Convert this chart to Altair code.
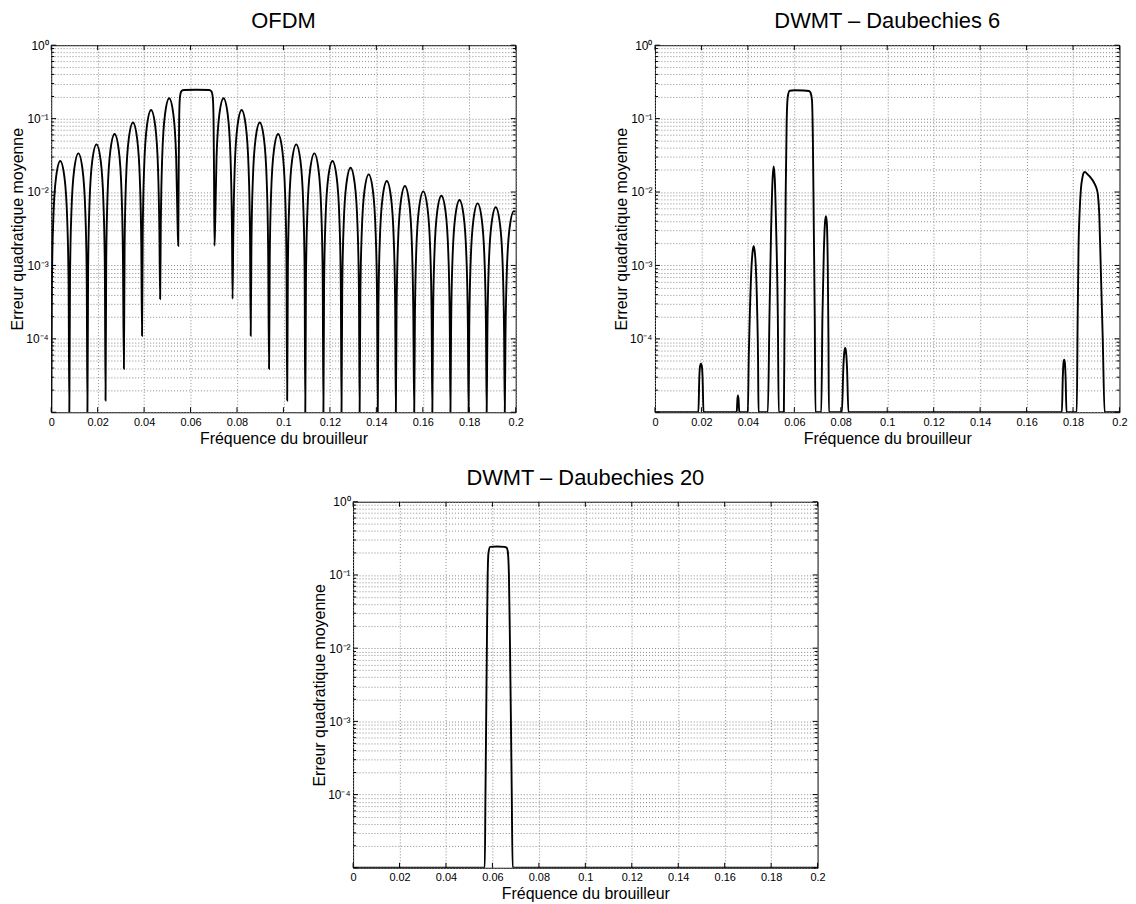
import altair as alt
import pandas as pd

FONT = "Liberation Sans"
GRID = "#8a8a8a"

# ---------------- data ----------------
titles = ["OFDM", "DWMT \u2013 Daubechies 6", "DWMT \u2013 Daubechies 20"]
x_label = "Fréquence du brouilleur"
y_label = "Erreur quadratique moyenne"

x_ticks = [0, 0.02, 0.04, 0.06, 0.08, 0.1, 0.12, 0.14, 0.16, 0.18, 0.2]
y_major = [1e-5, 1e-4, 1e-3, 1e-2, 1e-1, 1]
y_major_labels = ["", "10\u207b\u2074", "10\u207b\u00b3", "10\u207b\u00b2", "10\u207b\u00b9", "10\u2070"]
y_minor_mult = [2, 3, 4, 5, 6, 7, 8, 9]

ofdm_x = [
    0.0, 0.0003, 0.0009, 0.0021, 0.0039, 0.0057, 0.0069, 0.0075,
    0.0078, 0.0081, 0.0087, 0.0099, 0.0117, 0.0135, 0.0147, 0.0153,
    0.0156, 0.0159, 0.0165, 0.0177, 0.0195, 0.0213, 0.0225, 0.0231,
    0.0234, 0.0237, 0.0243, 0.0255, 0.0273, 0.0291, 0.0303, 0.0309,
    0.0313, 0.0316, 0.0322, 0.0334, 0.0352, 0.0370, 0.0382, 0.0388,
    0.0391, 0.0394, 0.0400, 0.0412, 0.0430, 0.0448, 0.0460, 0.0466,
    0.0469, 0.0472, 0.0478, 0.0490, 0.0508, 0.0526, 0.0538, 0.0544,
    0.0547, 0.0549, 0.0551, 0.0554, 0.0560, 0.0570, 0.0625, 0.0680, 0.0690, 0.0696, 0.0699, 0.0701,
    0.0703, 0.0706, 0.0712, 0.0724, 0.0742, 0.0760, 0.0772, 0.0778,
    0.0781, 0.0784, 0.0790, 0.0802, 0.0820, 0.0838, 0.0850, 0.0856,
    0.0859, 0.0862, 0.0868, 0.0880, 0.0898, 0.0916, 0.0928, 0.0934,
    0.0938, 0.0941, 0.0947, 0.0959, 0.0977, 0.0995, 0.1007, 0.1013,
    0.1016, 0.1019, 0.1025, 0.1037, 0.1055, 0.1073, 0.1085, 0.1091,
    0.1094, 0.1097, 0.1103, 0.1115, 0.1133, 0.1151, 0.1163, 0.1169,
    0.1172, 0.1175, 0.1181, 0.1193, 0.1211, 0.1229, 0.1241, 0.1247,
    0.1250, 0.1253, 0.1259, 0.1271, 0.1289, 0.1307, 0.1319, 0.1325,
    0.1328, 0.1331, 0.1337, 0.1349, 0.1367, 0.1385, 0.1397, 0.1403,
    0.1406, 0.1409, 0.1415, 0.1427, 0.1445, 0.1463, 0.1475, 0.1481,
    0.1484, 0.1487, 0.1493, 0.1505, 0.1523, 0.1541, 0.1553, 0.1559,
    0.1563, 0.1566, 0.1572, 0.1584, 0.1602, 0.1620, 0.1632, 0.1638,
    0.1641, 0.1644, 0.1650, 0.1662, 0.1680, 0.1698, 0.1710, 0.1716,
    0.1719, 0.1722, 0.1728, 0.1740, 0.1758, 0.1776, 0.1788, 0.1794,
    0.1797, 0.1800, 0.1806, 0.1818, 0.1836, 0.1854, 0.1866, 0.1872,
    0.1875, 0.1878, 0.1884, 0.1896, 0.1914, 0.1932, 0.1944, 0.1950,
    0.1953, 0.1956, 0.1962, 0.1974, 0.1992, 0.2000,
]
ofdm_y = [
    1e-5, 5.3e-4, 4.2e-3, 0.0159, 0.0264, 0.0159, 4.2e-3, 5.3e-4,
    1e-5, 6.7e-4, 5.3e-3, 0.0202, 0.0336, 0.0202, 5.3e-3, 6.7e-4,
    1e-5, 8.9e-4, 7.1e-3, 0.0269, 0.0446, 0.0269, 7.1e-3, 8.9e-4,
    1.44e-5, 1.23e-3, 9.8e-3, 0.0372, 0.0617, 0.0372, 9.8e-3, 1.23e-3,
    3.9e-5, 1.76e-3, 0.0140, 0.0533, 0.0884, 0.0533, 0.0140, 1.76e-3,
    1.1e-4, 2.6e-3, 0.0208, 0.0789, 0.131, 0.0789, 0.0208, 2.6e-3,
    3.5e-4, 3.8e-3, 0.0300, 0.1139, 0.189, 0.1139, 0.0300, 3.8e-3,
    1.85e-3, 0.02, 0.1, 0.19, 0.235, 0.245, 0.247, 0.245, 0.235, 0.19, 0.1, 0.02,
    1.85e-3, 3.8e-3, 0.0300, 0.1139, 0.189, 0.1139, 0.0300, 3.8e-3,
    3.5e-4, 2.6e-3, 0.0208, 0.0789, 0.131, 0.0789, 0.0208, 2.6e-3,
    1.1e-4, 1.76e-3, 0.0140, 0.0533, 0.0884, 0.0533, 0.0140, 1.76e-3,
    3.9e-5, 1.23e-3, 9.8e-3, 0.0372, 0.0617, 0.0372, 9.8e-3, 1.23e-3,
    1.44e-5, 8.9e-4, 7.1e-3, 0.0269, 0.0446, 0.0269, 7.1e-3, 8.9e-4,
    1e-5, 6.7e-4, 5.3e-3, 0.0202, 0.0336, 0.0202, 5.3e-3, 6.7e-4,
    1e-5, 5.3e-4, 4.2e-3, 0.0159, 0.0264, 0.0159, 4.2e-3, 5.3e-4,
    1e-5, 4.3e-4, 3.4e-3, 0.0129, 0.0214, 0.0129, 3.4e-3, 4.3e-4,
    1e-5, 3.5e-4, 2.76e-3, 0.0105, 0.0174, 0.0105, 2.76e-3, 3.5e-4,
    1e-5, 2.8e-4, 2.23e-3, 8.5e-3, 0.0141, 8.5e-3, 2.23e-3, 2.8e-4,
    1e-5, 2.4e-4, 1.92e-3, 7.3e-3, 0.0121, 7.3e-3, 1.92e-3, 2.4e-4,
    1e-5, 2.0e-4, 1.62e-3, 6.1e-3, 0.0102, 6.1e-3, 1.62e-3, 2.0e-4,
    1e-5, 1.8e-4, 1.41e-3, 5.4e-3, 0.0089, 5.4e-3, 1.41e-3, 1.8e-4,
    1e-5, 1.6e-4, 1.24e-3, 4.7e-3, 0.0078, 4.7e-3, 1.24e-3, 1.6e-4,
    1e-5, 1.4e-4, 1.11e-3, 4.2e-3, 0.0070, 4.2e-3, 1.11e-3, 1.4e-4,
    1e-5, 1.2e-4, 9.8e-4, 3.7e-3, 0.0062, 3.7e-3, 9.8e-4, 1.2e-4,
    1e-5, 1.1e-4, 8.7e-4, 3.3e-3, 0.0055, 0.0054,
]

db6_x = [
    0.0, 0.0187, 0.0191, 0.0194, 0.0198, 0.0202, 0.0205, 0.0209,
    0.0352, 0.0355, 0.0357, 0.0360, 0.0363,
    0.0400, 0.0404, 0.0409, 0.0416, 0.0421, 0.0425, 0.0429, 0.0434, 0.0440, 0.0444, 0.0446,
    0.0486, 0.0493, 0.0500, 0.0506, 0.0511, 0.0516, 0.0522, 0.0529, 0.0533,
    0.0555, 0.0558, 0.0563, 0.0567, 0.0572, 0.0580, 0.0600, 0.0640, 0.0663, 0.0670, 0.0676, 0.0680, 0.0684, 0.0688, 0.0691,
    0.0716, 0.0721, 0.0727, 0.0732, 0.0736, 0.0740, 0.0744, 0.0747, 0.0749,
    0.0805, 0.0811, 0.0815, 0.0819, 0.0823, 0.0827, 0.0833,
    0.1752, 0.1756, 0.1759, 0.1762, 0.1765, 0.1768, 0.1772,
    0.1816, 0.1820, 0.1824, 0.1828, 0.1834, 0.1840, 0.1846, 0.1851, 0.1862, 0.1876, 0.1890, 0.1900, 0.1907, 0.1913, 0.1920, 0.1928, 0.1936,
    0.2,
]
db6_y = [
    1e-5, 1e-5, 3e-5, 4.2e-5, 4.6e-5, 4.2e-5, 3e-5, 1e-5,
    1e-5, 1.5e-5, 1.7e-5, 1.5e-5, 1e-5,
    1e-5, 6e-5, 2.5e-4, 1e-3, 1.6e-3, 1.83e-3, 1.6e-3, 1e-3, 2.5e-4, 5e-5, 1e-5,
    1e-5, 2e-4, 3e-3, 0.014, 0.0223, 0.015, 3e-3, 2e-4, 1e-5,
    1e-5, 2e-4, 1e-2, 0.09, 0.2, 0.24, 0.243, 0.242, 0.238, 0.225, 0.18, 0.05, 3e-3, 2e-4, 1e-5,
    1e-5, 2e-4, 1.5e-3, 3.8e-3, 4.7e-3, 3.8e-3, 1e-3, 1e-4, 1e-5,
    1e-5, 4e-5, 6.5e-5, 7.5e-5, 6.5e-5, 4e-5, 1e-5,
    1e-5, 3e-5, 4.7e-5, 5.2e-5, 4.7e-5, 3e-5, 1e-5,
    1e-5, 2e-4, 2e-3, 5e-3, 0.011, 0.0155, 0.0183, 0.0188, 0.0175, 0.0157, 0.0135, 0.0115, 0.0092, 0.005, 8e-4, 1e-4, 1e-5,
    1e-5,
]

db20_x = [0.0, 0.0567, 0.0570, 0.0573, 0.0576, 0.0579, 0.0583, 0.0590, 0.0620,
          0.0650, 0.0661, 0.0666, 0.0671, 0.0675, 0.0679, 0.0683, 0.0687, 0.2]
db20_y = [1e-5, 1e-5, 1e-4, 1e-3, 1e-2, 0.08, 0.2, 0.242, 0.245,
          0.242, 0.236, 0.21, 0.1, 0.015, 1.5e-3, 1.2e-4, 1e-5, 1e-5]

assert len(ofdm_x) == len(ofdm_y)
assert len(db6_x) == len(db6_y)
assert len(db20_x) == len(db20_y)

# ---------------- layout ----------------
W, H = 467, 369

y_minor = [m * v for v in y_major[:-1] for m in y_minor_mult]
y_grid = sorted(y_major + y_minor)

label_expr = ""
for v, lab in zip(y_major, y_major_labels):
    label_expr += f"(datum.value > {v*0.99} && datum.value < {v*1.01}) ? '{lab}' : "
label_expr += "''"

xsc = alt.Scale(domain=[0, 0.2], nice=False, zero=False)
ysc = alt.Scale(type="log", domain=[1e-5, 1], nice=False)

xaxis = alt.Axis(
    values=x_ticks, format="~g", grid=True, gridDash=[1, 2], gridColor=GRID,
    gridWidth=1, ticks=False, domain=False, labelFlush=False,
    labelFont=FONT, labelFontSize=11, labelColor="black", labelPadding=4,
    title=x_label, titleFont=FONT, titleFontSize=16, titleFontWeight="normal",
    titleColor="black", titlePadding=3,
)
yaxis = alt.Axis(
    values=y_grid, labelExpr=label_expr, grid=True, gridDash=[1, 2],
    gridColor=GRID, gridWidth=1, ticks=False, domain=False, labelFlush=False,
    labelOverlap=False, labelFont=FONT, labelFontSize=12, labelColor="black",
    labelPadding=3,
    title=y_label, titleFont=FONT, titleFontSize=16, titleFontWeight="normal",
    titleColor="black", titlePadding=0.5,
)


def panel(xs, ys, title, h=H):
    df = pd.DataFrame({"f": xs, "e": ys})
    line = alt.Chart(df).mark_line(
        color="black", strokeWidth=1.9, interpolate="monotone", clip=True
    ).encode(
        x=alt.X("f:Q", scale=xsc, axis=xaxis),
        y=alt.Y("e:Q", scale=ysc, axis=yaxis),
    )

    xt = alt.Chart(pd.DataFrame({"f": x_ticks}))
    xt_bottom = xt.mark_rule(color="black", strokeWidth=1).encode(
        x=alt.X("f:Q", scale=xsc, axis=xaxis), y=alt.value(h), y2=alt.value(h - 5))
    xt_top = xt.mark_rule(color="black", strokeWidth=1).encode(
        x=alt.X("f:Q", scale=xsc, axis=xaxis), y=alt.value(0), y2=alt.value(5))

    ytM = alt.Chart(pd.DataFrame({"e": y_major}))
    ytm = alt.Chart(pd.DataFrame({"e": y_minor}))
    yl_major = ytM.mark_rule(color="black", strokeWidth=1).encode(
        y=alt.Y("e:Q", scale=ysc, axis=yaxis), x=alt.value(0), x2=alt.value(5))
    yr_major = ytM.mark_rule(color="black", strokeWidth=1).encode(
        y=alt.Y("e:Q", scale=ysc, axis=yaxis), x=alt.value(W), x2=alt.value(W - 5))
    yl_minor = ytm.mark_rule(color="black", strokeWidth=1).encode(
        y=alt.Y("e:Q", scale=ysc, axis=yaxis), x=alt.value(0), x2=alt.value(3))
    yr_minor = ytm.mark_rule(color="black", strokeWidth=1).encode(
        y=alt.Y("e:Q", scale=ysc, axis=yaxis), x=alt.value(W), x2=alt.value(W - 3))

    return alt.layer(
        line, xt_bottom, xt_top, yl_major, yr_major, yl_minor, yr_minor
    ).properties(
        width=W, height=h,
        title=alt.TitleParams(
            title, font=FONT, fontSize=22, fontWeight="normal", color="black",
            anchor="middle", offset=6),
    )


p1 = panel(ofdm_x, ofdm_y, titles[0])
p2 = panel(db6_x, db6_y, titles[1])
p3 = panel(db20_x, db20_y, titles[2], h=368)

top_row = alt.hconcat(p1, p2, spacing=88)
chart = alt.vconcat(top_row, p3, spacing=19, center=True).properties(
    padding={"left": 0, "top": -1, "right": 0, "bottom": 0},
    background="white",
).configure_view(stroke="black", strokeWidth=1)

chart.save("out.html", embed_options={"renderer": "svg", "actions": False})
